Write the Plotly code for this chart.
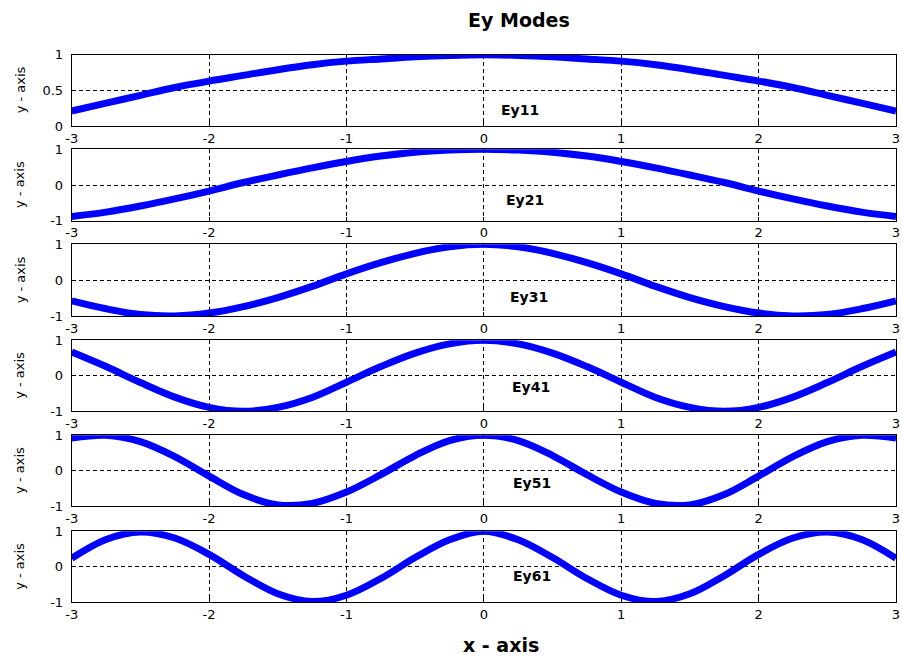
import plotly.graph_objects as go

# ---------------- data ----------------
x_vals = [-3.0, -2.75, -2.5, -2.25, -2.0, -1.75, -1.5, -1.25, -1.0, -0.75, -0.5, -0.25,
          0.0, 0.25, 0.5, 0.75, 1.0, 1.25, 1.5, 1.75, 2.0, 2.25, 2.5, 2.75, 3.0]

ey11 = [0.21, 0.32, 0.43, 0.54, 0.63, 0.71, 0.79, 0.86, 0.91, 0.94, 0.97, 0.99,
        1.00, 0.99, 0.97, 0.94, 0.91, 0.86, 0.79, 0.71, 0.63, 0.54, 0.43, 0.32, 0.21]
ey21 = [-0.88, -0.76, -0.59, -0.39, -0.17, 0.07, 0.28, 0.48, 0.66, 0.81, 0.92, 0.98,
        1.00, 0.98, 0.92, 0.81, 0.66, 0.48, 0.28, 0.07, -0.17, -0.39, -0.59, -0.76, -0.88]
ey31 = [-0.57, -0.79, -0.95, -0.99, -0.91, -0.73, -0.48, -0.17, 0.18, 0.49, 0.75, 0.93,
        1.00, 0.93, 0.75, 0.49, 0.18, -0.17, -0.48, -0.73, -0.91, -0.99, -0.95, -0.79, -0.57]
ey41 = [0.67, 0.26, -0.19, -0.60, -0.89, -1.00, -0.89, -0.61, -0.18, 0.26, 0.64, 0.90,
        1.00, 0.90, 0.64, 0.26, -0.18, -0.61, -0.89, -1.00, -0.89, -0.60, -0.19, 0.26, 0.67]
ey51 = [0.92, 1.00, 0.82, 0.40, -0.15, -0.67, -0.96, -0.92, -0.60, -0.11, 0.43, 0.85,
        1.00, 0.85, 0.43, -0.11, -0.60, -0.92, -0.96, -0.67, -0.15, 0.40, 0.82, 1.00, 0.92]
ey61 = [0.24, 0.77, 0.98, 0.81, 0.35, -0.25, -0.76, -0.98, -0.80, -0.33, 0.26, 0.76,
        1.00, 0.76, 0.26, -0.33, -0.80, -0.98, -0.76, -0.25, 0.35, 0.81, 0.98, 0.77, 0.24]

series = [ey11, ey21, ey31, ey41, ey51, ey61]
mode_labels = ["Ey11", "Ey21", "Ey31", "Ey41", "Ey51", "Ey61"]
label_pos = [(0.26, 0.22), (0.30, -0.42), (0.33, -0.47), (0.34, -0.31), (0.35, -0.35), (0.35, -0.27)]

x_ticks = [-3, -2, -1, 0, 1, 2, 3]
y_ticks_first = [0, 0.5, 1]
y_ticks_other = [-1, 0, 1]

title_text = "Ey Modes"
x_title = "x - axis"
y_title = "y - axis"

# ---------------- layout geometry ----------------
W, H = 902, 658
x_left, x_right = 71.7, 896.0
tops = [54.7, 149.3, 244.3, 340.3, 435.3, 531.3]
bottoms = [126.0, 220.7, 316.3, 411.3, 506.3, 602.3]

FONT = "DejaVu Sans, Verdana, sans-serif"

fig = go.Figure()
layout = dict(
    width=W, height=H,
    margin=dict(l=0, r=0, t=0, b=0, autoexpand=False),
    paper_bgcolor="white", plot_bgcolor="white",
    showlegend=False,
    font=dict(family=FONT, size=13, color="black"),
)

annotations = []
for i, (yv, lab, (lx, ly)) in enumerate(zip(series, mode_labels, label_pos)):
    n = "" if i == 0 else str(i + 1)
    xa, ya = "x" + n, "y" + n
    fig.add_trace(go.Scatter(
        x=x_vals, y=yv, mode="lines", xaxis=xa, yaxis=ya,
        line=dict(color="#0000FF", width=7, shape="spline", smoothing=1.0),
        hoverinfo="skip",
    ))
    common = dict(
        showline=True, mirror=True, linecolor="black", linewidth=1,
        showgrid=True, gridcolor="black", gridwidth=1, griddash="4px,3px",
        zeroline=False, ticks="inside", ticklen=4, tickcolor="black",
        tickfont=dict(family=FONT, size=13, color="black"),
        automargin=False,
    )
    layout["xaxis" + n] = dict(
        common, domain=[x_left / W, x_right / W], range=[-3, 3],
        tickvals=x_ticks, ticktext=[str(t) for t in x_ticks],
        anchor=ya,
    )
    yt = y_ticks_first if i == 0 else y_ticks_other
    layout["yaxis" + n] = dict(
        common, domain=[1 - bottoms[i] / H, 1 - tops[i] / H],
        range=[yt[0], yt[-1]], tickvals=yt,
        ticktext=[("%g" % t) for t in yt],
        anchor=xa, ticklabelstandoff=5,
    )
    annotations.append(dict(
        x=lx, y=ly, xref=xa, yref=ya, text="<b>%s</b>" % lab, showarrow=False,
        font=dict(family=FONT, size=14, color="black"),
        xanchor="center", yanchor="middle",
    ))
    annotations.append(dict(
        x=20 / W, y=1 - (tops[i] + bottoms[i]) / 2 / H, xref="paper", yref="paper",
        text=y_title, showarrow=False, textangle=-90,
        font=dict(family=FONT, size=13, color="black"),
        xanchor="center", yanchor="middle",
    ))

annotations.append(dict(
    x=519 / W, y=1 - 20 / H, xref="paper", yref="paper",
    text="<b>%s</b>" % title_text, showarrow=False,
    font=dict(family=FONT, size=19, color="black"),
    xanchor="center", yanchor="middle",
))
annotations.append(dict(
    x=501 / W, y=1 - 645 / H, xref="paper", yref="paper",
    text="<b>%s</b>" % x_title, showarrow=False,
    font=dict(family=FONT, size=19, color="black"),
    xanchor="center", yanchor="middle",
))
layout["annotations"] = annotations

fig.update_layout(**layout)
fig.write_html(
    "out.html",
    config={"displayModeBar": False},
    post_script="document.body.style.margin='0';document.body.style.padding='0';"
                "document.documentElement.style.overflow='hidden';",
)
